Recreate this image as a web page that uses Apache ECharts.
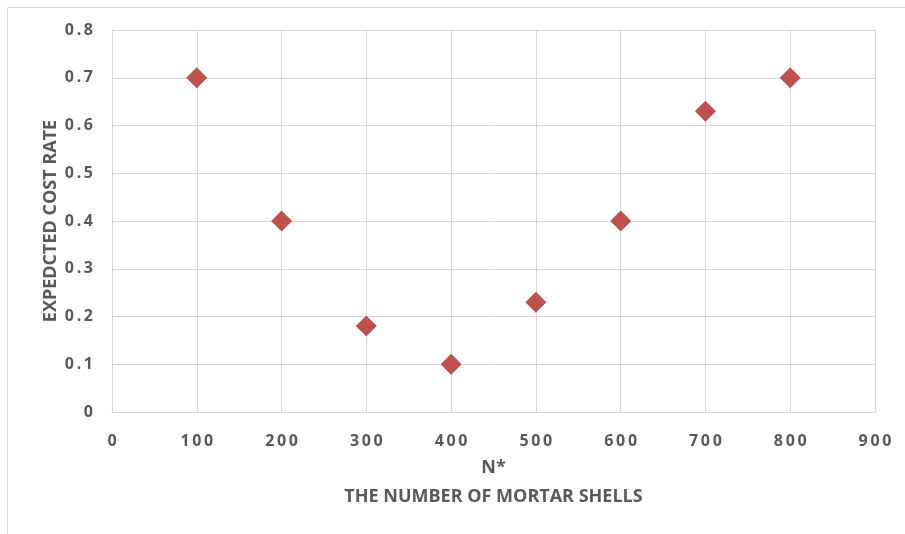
<!DOCTYPE html>
<html>
<head>
<meta charset="utf-8">
<script src="https://cdn.jsdelivr.net/npm/echarts@6/dist/echarts.min.js"></script>
<style>
  html, body { margin: 0; padding: 0; background: #fff; }
  #chart { width: 905px; height: 534px; }
</style>
</head>
<body>
<div id="chart"></div>
<script>
const shells = [100, 200, 300, 400, 500, 600, 700, 800];
const costRate = [0.7, 0.4, 0.18, 0.1, 0.23, 0.4, 0.63, 0.7];

const chart = echarts.init(document.getElementById("chart"));
const labelFont = {
  color: "#595959",
  fontFamily: "Open Sans",
  fontWeight: "bold",
  fontSize: 16
};
// the reference spaces its tick digits out a little
const spread = s => String(s).split("").join("\u2009");

chart.setOption({
  animation: false,
  backgroundColor: "#fff",
  graphic: [{
    type: "rect",
    shape: { x: 7.5, y: 7.5, width: 940, height: 560 },
    style: { fill: null, stroke: "#d9d9d9", lineWidth: 1 },
    silent: true
  }],
  grid: { left: 112, right: 30, top: 30, bottom: 122 },
  xAxis: {
    type: "value",
    min: 0,
    max: 900,
    interval: 100,
    name: "N*\nTHE NUMBER OF MORTAR SHELLS",
    nameLocation: "middle",
    nameGap: 41,
    nameMoveOverlap: false,
    nameTextStyle: Object.assign({}, labelFont, { fontSize: 18, lineHeight: 29 }),
    axisLine: { show: true, lineStyle: { color: "#d9d9d9" } },
    axisTick: { show: false },
    splitLine: { show: true, lineStyle: { color: "#d9d9d9" } },
    axisLabel: Object.assign({}, labelFont, { margin: 21, formatter: v => spread(v) })
  },
  yAxis: {
    type: "value",
    min: 0,
    max: 0.8,
    interval: 0.1,
    name: "EXPEDCTED COST RATE",
    nameLocation: "middle",
    nameGap: 52,
    nameMoveOverlap: false,
    nameTextStyle: Object.assign({}, labelFont, { fontSize: 18 }),
    axisLine: { show: true, lineStyle: { color: "#d9d9d9" } },
    axisTick: { show: false },
    splitLine: { show: true, lineStyle: { color: "#d9d9d9" } },
    axisLabel: Object.assign({}, labelFont, {
      margin: 19,
      formatter: v => (v === 0 ? "0" : spread(v.toFixed(1)))
    })
  },
  series: [{
    type: "scatter",
    symbol: "diamond",
    symbolSize: 21,
    itemStyle: { color: "#C0504D", opacity: 1 },
    data: shells.map((s, i) => [s, costRate[i]])
  }]
});
</script>
</body>
</html>
